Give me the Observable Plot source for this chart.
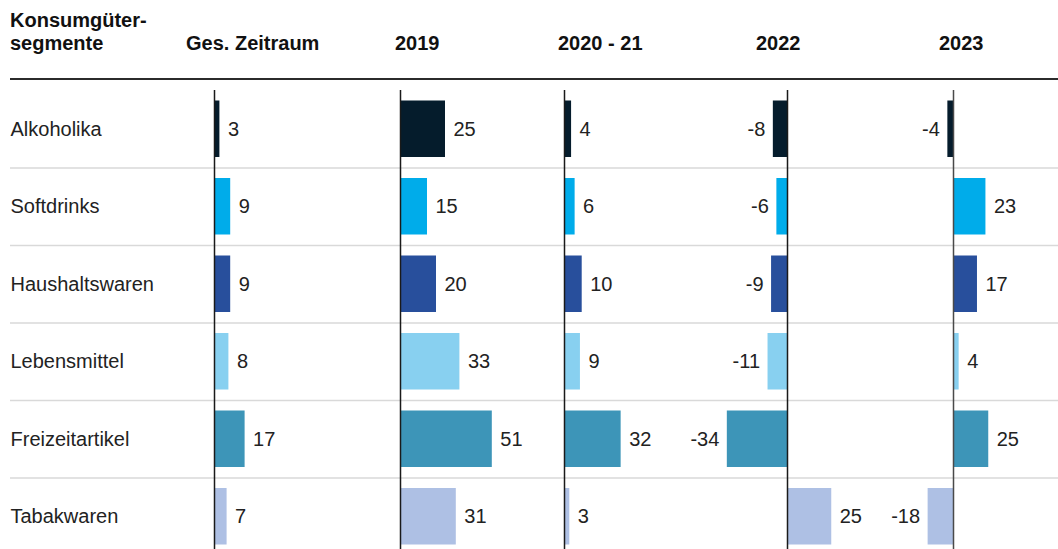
<!DOCTYPE html>
<html>
<head>
<meta charset="utf-8">
<script src="https://cdn.jsdelivr.net/npm/d3@7"></script>
<script src="https://cdn.jsdelivr.net/npm/@observablehq/plot@0.6"></script>
<style>
  html, body { margin: 0; padding: 0; background: #fff; }
  #chart { position: relative; width: 1058px; height: 549px; overflow: hidden; font-family: "Liberation Sans", Arial, sans-serif; }
  #chart .layer { position: absolute; left: 0; top: 90px; }
  #chart .layer svg { display: block; }
  .hd { position: absolute; font-weight: bold; font-size: 20px; line-height: 23px; color: #111; white-space: nowrap; }
  .hrule { position: absolute; left: 10px; right: 0; top: 78px; height: 2px; background: #2b2b2b; }
</style>
</head>
<body>
<div id="chart"></div>
<script>
// ---- data ----
const segments = ["Alkoholika", "Softdrinks", "Haushaltswaren", "Lebensmittel", "Freizeitartikel", "Tabakwaren"];
const periods = ["Ges. Zeitraum", "2019", "2020 - 21", "2022", "2023"];
const gesZeitraum = [3, 9, 9, 8, 17, 7];
const values2019 = [25, 15, 20, 33, 51, 31];
const values2020_21 = [4, 6, 10, 9, 32, 3];
const values2022 = [-8, -6, -9, -11, -34, 25];
const values2023 = [-4, 23, 17, 4, 25, -18];
const segmentColors = ["#051c2c", "#00acea", "#284f9c", "#88d0f0", "#3d95b8", "#aec0e4"];
const headerTitle = ["Konsumgüter-", "segmente"];

// ---- layout ----
const W = 1058, PLOT_H = 465;
const FONT = "Liberation Sans, Arial, sans-serif";
const columnLayout = [
  {zero: 214, pxPerUnit: 1.80, header: 186, rule: "#1a1a1a"},
  {zero: 400, pxPerUnit: 1.80, header: 395, rule: "#1a1a1a"},
  {zero: 564, pxPerUnit: 1.77, header: 558, rule: "#1a1a1a"},
  {zero: 787, pxPerUnit: 1.77, header: 756, rule: "#1a1a1a"},
  {zero: 953, pxPerUnit: 1.41, header: 939, rule: "#4a4a4a"}
];
const periodValues = [gesZeitraum, values2019, values2020_21, values2022, values2023];

const chart = document.getElementById("chart");

// header (HTML)
const t = document.createElement("div");
t.className = "hd";
t.style.left = "10px";
t.style.top = "9px";
t.innerHTML = headerTitle.join("<br>");
chart.appendChild(t);
periods.forEach((p, i) => {
  const d = document.createElement("div");
  d.className = "hd";
  d.style.left = columnLayout[i].header + "px";
  d.style.top = "32px";
  d.textContent = p;
  chart.appendChild(d);
});
const hr = document.createElement("div");
hr.className = "hrule";
chart.appendChild(hr);

const band = PLOT_H / segments.length;
const yScale = {type: "band", domain: segments, padding: 0, round: false, axis: null};

// base layer: gridlines and row labels
const base = Plot.plot({
  width: W, height: PLOT_H,
  marginTop: 0, marginBottom: 0, marginLeft: 10, marginRight: 0,
  style: {background: "transparent", fontFamily: FONT},
  x: {axis: null},
  y: yScale,
  marks: [
    Plot.ruleY(segments.slice(1), {y: d => d, stroke: "#d9d9d9", strokeWidth: 1.3, dy: -band / 2}),
    Plot.text(segments, {y: d => d, text: d => d, frameAnchor: "left", textAnchor: "start", fontSize: 20, fill: "#222"})
  ]
});
const baseWrap = document.createElement("div");
baseWrap.className = "layer";
baseWrap.appendChild(base);
chart.appendChild(baseWrap);

// one layer per period column
periods.forEach((p, ci) => {
  const L = columnLayout[ci];
  const rows = segments.map((s, i) => ({segment: s, value: periodValues[ci][i]}));
  const plot = Plot.plot({
    width: W, height: PLOT_H,
    marginTop: 0, marginBottom: 0, marginLeft: 0, marginRight: 0,
    style: {background: "transparent", fontFamily: FONT},
    x: {domain: [-L.zero / L.pxPerUnit, (W - L.zero) / L.pxPerUnit], axis: null},
    y: yScale,
    color: {domain: segments, range: segmentColors},
    marks: [
      Plot.barX(rows, {y: "segment", x1: 0, x2: "value", fill: "segment", insetTop: 10.5, insetBottom: 10.5}),
      Plot.ruleX([0], {stroke: L.rule, strokeWidth: 1.5}),
      Plot.text(rows.filter(d => d.value >= 0), {y: "segment", x: "value", text: d => String(d.value), textAnchor: "start", dx: 8, fontSize: 20, fill: "#222"}),
      Plot.text(rows.filter(d => d.value < 0), {y: "segment", x: "value", text: d => String(d.value), textAnchor: "end", dx: -8, fontSize: 20, fill: "#222"})
    ]
  });
  const wrap = document.createElement("div");
  wrap.className = "layer";
  wrap.appendChild(plot);
  chart.appendChild(wrap);
});
</script>
</body>
</html>
